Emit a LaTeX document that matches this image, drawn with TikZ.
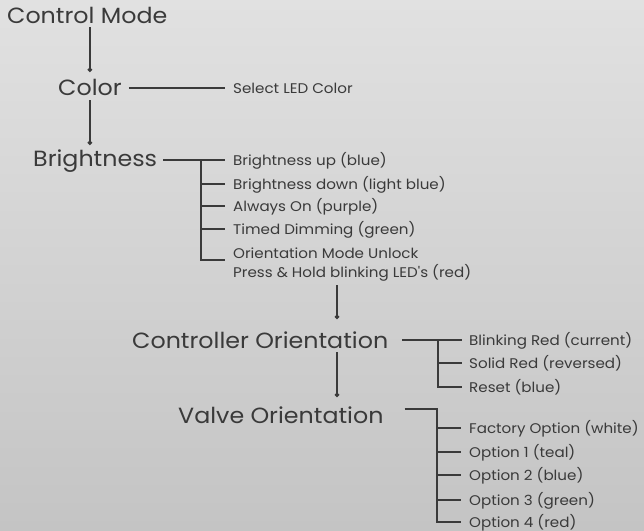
\documentclass[tikz,border=0pt]{standalone}
\usepackage{fontspec}
\setmainfont{Poppins}
\newfontfamily\widefont[FakeStretch=1.08]{Poppins}
\usetikzlibrary{arrows.meta}
\definecolor{bgtop}{RGB}{225,225,225}
\definecolor{bgbot}{RGB}{196,196,196}
\definecolor{ink}{RGB}{58,58,58}
\begin{document}
\begin{tikzpicture}[x=1pt,y=-1pt,
	big/.style={inner sep=0pt,anchor=base west,text=ink,font=\widefont\fontsize{22}{26}\selectfont},
	small/.style={inner sep=0pt,anchor=base west,text=ink,font=\widefont\fontsize{14}{16}\selectfont},
	link/.style={draw=ink,line width=1.2pt},
	dotlink/.style={link,-{Circle[length=4.5pt]}}]
	\fill[top color=bgtop,bottom color=bgbot] (0,0) rectangle (644,530);

	\node[big] (mode) at (7,23) {Control Mode};
	\node[big] (color) at (58,95) {Color};
	\node[big] (bright) at (33,166) {Brightness};
	\node[big] (ctrl) at (132,348) {Controller Orientation};
	\node[big] (valve) at (178,423) {Valve Orientation};
	\coordinate (spine) at (337,0);

	\node[small] (sel) at (233,93) {Select LED Color};

	\node[small] (bup) at (233,165) {Brightness up (blue)};
	\node[small] (bdown) at (233,189) {Brightness down (light blue)};
	\node[small] (alon) at (233,211) {Always On (purple)};
	\node[small] (timed) at (233,234) {Timed Dimming (green)};
	\node[small] (unlock) at (233,258) {Orientation Mode Unlock};
	\node[small] (hold) at (233,277) {Press \& Hold blinking LED's (red)};

	\node[small] (blink) at (469,345) {Blinking Red (current)};
	\node[small] (solid) at (469,368) {Solid Red (reversed)};
	\node[small] (reset) at (469,392) {Reset (blue)};

	\node[small] (factory) at (469,433) {Factory Option (white)};
	\node[small] (opt1) at (469,457) {Option 1 (teal)};
	\node[small] (opt2) at (469,480) {Option 2 (blue)};
	\node[small] (opt3) at (469,505) {Option 3 (green)};
	\node[small] (opt4) at (469,527) {Option 4 (red)};

	\draw[dotlink] ([yshift=-4pt]mode.base -| color.base) -- ([yshift=23pt]color.base);
	\draw[dotlink] ([yshift=-5pt]color.base) -- ([yshift=21pt]color.base |- bright.base);
	\draw[dotlink] ([yshift=-8pt]hold.base -| spine) -- ([yshift=29pt]ctrl.base -| spine);
	\draw[dotlink] ([yshift=-4pt]ctrl.base -| spine) -- ([yshift=26pt]valve.base -| spine);

	\draw[link] ([xshift=7pt,yshift=7pt]color.base east) -- ([xshift=-8pt,yshift=5pt]sel.base west);

	\draw[link] ([xshift=6pt,yshift=6pt]bright.base east) -- ([xshift=-8pt,yshift=5pt]bup.base west);
	\draw[link] ([xshift=-32pt,yshift=5pt]bup.base west) |- ([xshift=-8pt,yshift=-2pt]unlock.base west);
	\foreach \n in {bdown,alon,timed}
		\draw[link] ([xshift=-32pt,yshift=5pt]\n.base west) -- ([xshift=-8pt,yshift=5pt]\n.base west);

	\draw[link] ([xshift=14pt,yshift=8pt]ctrl.base east) -- ([xshift=-7pt,yshift=5pt]blink.base west);
	\draw[link] ([xshift=-31pt,yshift=5pt]blink.base west) |- ([xshift=-7pt,yshift=5pt]reset.base west);
	\draw[link] ([xshift=-31pt,yshift=5pt]solid.base west) -- ([xshift=-7pt,yshift=5pt]solid.base west);

	\draw[link] ([xshift=21pt,yshift=14pt]valve.base east) -| ([xshift=-32pt,yshift=5pt]opt4.base west) -- ([xshift=-8pt,yshift=5pt]opt4.base west);
	\foreach \n in {factory,opt1,opt2,opt3}
		\draw[link] ([xshift=-32pt,yshift=5pt]\n.base west) -- ([xshift=-8pt,yshift=5pt]\n.base west);
\end{tikzpicture}
\end{document}
